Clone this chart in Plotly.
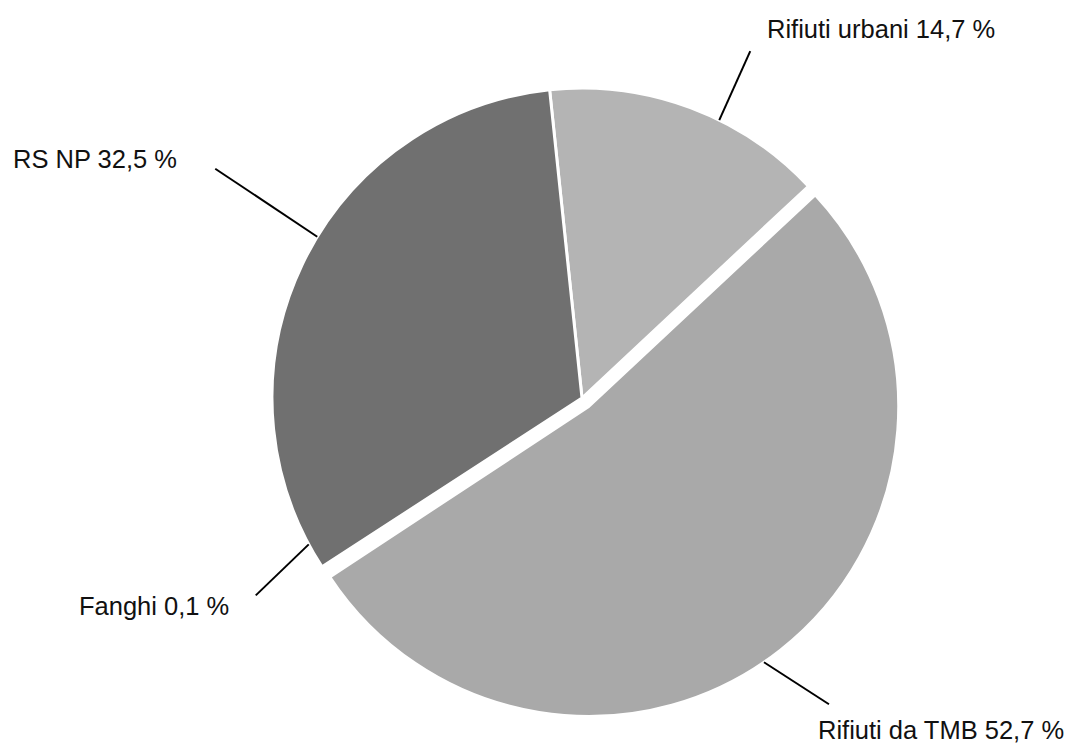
import math
import plotly.graph_objects as go

# Composition of the treated waste (percent shares)
labels = ["Rifiuti urbani", "Rifiuti da TMB", "Fanghi", "RS NP"]
shares = [14.7, 52.7, 0.1, 32.5]
share_text = ["14,7 %", "52,7 %", "0,1 %", "32,5 %"]

colors = ["#b4b4b4", "#a9a9a9", "#8c8c8c", "#707070"]
pulls = [0, 0.035, 0, 0]

W, H = 1068, 751
CX, CY, R = 582, 398, 310          # pie centre and radius, pixels
ROT = -6                           # start angle of the first slice (deg, clockwise from 12 o'clock)

half = R * (1 + max(pulls))
dom_x = [(CX - half) / W, (CX + half) / W]
dom_y = [1 - (CY + half) / H, 1 - (CY - half) / H]

fig = go.Figure(go.Pie(
    labels=labels,
    values=shares,
    sort=False,
    direction="clockwise",
    rotation=ROT,
    pull=pulls,
    marker=dict(colors=colors, line=dict(color="white", width=3)),
    textinfo="none",
    hoverinfo="label+percent",
    showlegend=False,
    domain=dict(x=dom_x, y=dom_y),
))

# Callout layout: where along each slice the leader line starts (fraction of the slice
# plus a small angular nudge in degrees), the leader vector in pixels, and the label position.
callouts = [
    dict(frac=0.61, nudge=0, vec=(31, -69), text_xy=(765, 29), anchor="left"),
    dict(frac=0.52, nudge=0, vec=(65, 42), text_xy=(1066, 730), anchor="right"),
    dict(frac=0.50, nudge=5, vec=(-53, 51), text_xy=(77, 606), anchor="left"),
    dict(frac=0.55, nudge=0, vec=(-102, -68), text_xy=(11, 159), anchor="left"),
]

total = sum(shares)
start = ROT
shapes, annotations = [], []
for lab, val, txt, pull, co in zip(labels, shares, share_text, pulls, callouts):
    span = 360 * val / total
    mid = start + span / 2
    ang = math.radians(start + span * co["frac"] + co["nudge"])
    mid_rad = math.radians(mid)
    # slice centre, shifted outward for pulled slices
    ox = CX + pull * R * math.sin(mid_rad)
    oy = CY - pull * R * math.cos(mid_rad)
    x0 = ox + R * math.sin(ang)
    y0 = oy - R * math.cos(ang)
    x1, y1 = x0 + co["vec"][0], y0 + co["vec"][1]
    shapes.append(dict(type="line", xref="paper", yref="paper",
                       x0=x0 / W, y0=1 - y0 / H, x1=x1 / W, y1=1 - y1 / H,
                       line=dict(color="black", width=2)))
    tx, ty = co["text_xy"]
    annotations.append(dict(text=f"{lab} {txt}", xref="paper", yref="paper",
                            x=tx / W, y=1 - ty / H, xanchor=co["anchor"], yanchor="middle",
                            showarrow=False,
                            font=dict(family="Liberation Sans, Arial, sans-serif",
                                      size=25.5, color="#111111")))
    start += span

fig.update_layout(
    width=W, height=H,
    margin=dict(l=0, r=0, t=0, b=0),
    paper_bgcolor="white", plot_bgcolor="white",
    shapes=shapes, annotations=annotations,
)

fig.write_html("out.html")
